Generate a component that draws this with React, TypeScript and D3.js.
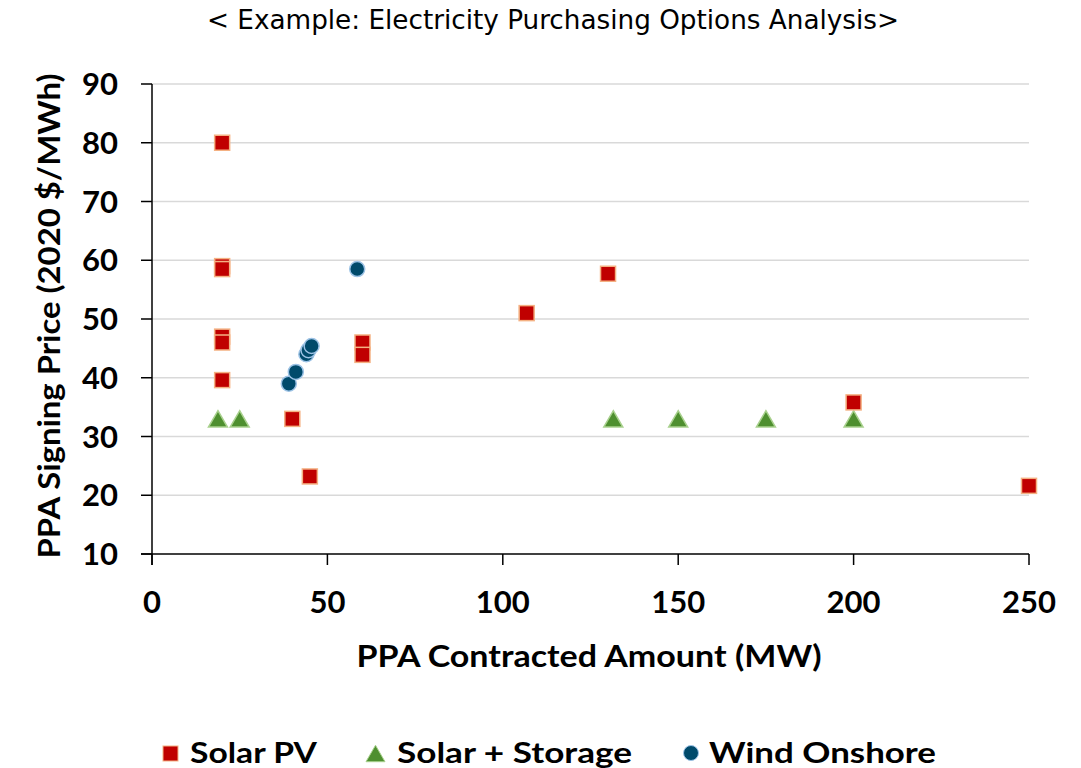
import React from "react";
import * as d3 from "d3";

const solarPvX = [20, 20, 20, 20, 20, 20, 40, 45, 60, 60, 106.8, 130, 200, 250];
const solarPvY = [80, 59, 58.5, 47, 46, 39.6, 33, 23.2, 46, 43.9, 51, 57.7, 35.8, 21.6];
const storageX = [18.8, 25, 131.5, 150, 175, 200];
const storageY = [33, 33, 33, 33, 33, 33];
const windX = [39, 41, 44, 44.6, 45.5, 58.5];
const windY = [39, 41, 44, 44.7, 45.4, 58.5];
const xTicks = [0, 50, 100, 150, 200, 250];
const yTicks = [10, 20, 30, 40, 50, 60, 70, 80, 90];
const seriesNames = ["Solar PV", "Solar + Storage", "Wind Onshore"];

const W = 1081;
const H = 768;
const M = { left: 152, right: 1029, top: 84, bottom: 554 };
const FONT = "Lato, 'Open Sans', sans-serif";

export default function App() {
  const x = d3.scaleLinear().domain([0, 250]).range([M.left, M.right]);
  const y = d3.scaleLinear().domain([10, 90]).range([M.bottom, M.top]);
  const triSize = 156;
  const tri = d3.symbol().type(d3.symbolTriangle).size(triSize)()!;
  const triSide = Math.sqrt((4 * triSize) / Math.sqrt(3));
  const triOff = (triSide * Math.sqrt(3)) / 2 / 6;
  const sq = 15;

  return (
    <svg width={W} height={H} style={{ position: "absolute", left: 0, top: 0, background: "#fff" }}>
      <text x={553} y={29} textAnchor="middle" textLength={692} lengthAdjust="spacingAndGlyphs" fontFamily="'DejaVu Sans Condensed', 'Liberation Sans Narrow', 'Liberation Sans', sans-serif" fontSize={26} fill="#000">
        {"< Example: Electricity Purchasing Options Analysis>"}
      </text>
      {yTicks.map((t) => (
        <g key={"y" + t}>
          {t !== 10 && (
            <line x1={M.left} x2={M.right} y1={y(t)} y2={y(t)} stroke="#d9d9d9" strokeWidth={1.5} />
          )}
          <line x1={M.left - 11} x2={M.left} y1={y(t)} y2={y(t)} stroke="#000" strokeWidth={1.5} />
          <text x={118} y={y(t) + 11} textAnchor="end" fontFamily={FONT} fontWeight={700} fontSize={31} fill="#000">
            {t}
          </text>
        </g>
      ))}
      {xTicks.map((t) => (
        <g key={"x" + t}>
          <line x1={x(t)} x2={x(t)} y1={M.bottom} y2={M.bottom + 11} stroke="#000" strokeWidth={1.5} />
          <text x={x(t)} y={613} textAnchor="middle" fontFamily={FONT} fontWeight={700} fontSize={31} fill="#000">
            {t}
          </text>
        </g>
      ))}
      <line x1={M.left} x2={M.left} y1={M.top} y2={M.bottom + 11} stroke="#000" strokeWidth={1.5} />
      <line x1={M.left - 11} x2={M.right} y1={M.bottom} y2={M.bottom} stroke="#000" strokeWidth={1.5} />
      <text x={589} y={667} textAnchor="middle" textLength={465} lengthAdjust="spacingAndGlyphs" fontFamily={FONT} fontWeight={700} fontSize={30} fill="#000">
        PPA Contracted Amount (MW)
      </text>
      <text transform={`translate(60,316) rotate(-90)`} textAnchor="middle" textLength={485} lengthAdjust="spacingAndGlyphs" fontFamily={FONT} fontWeight={700} fontSize={30} fill="#000">
        PPA Signing Price (2020 $/MWh)
      </text>

      {storageX.map((v, i) => (
        <path key={"s" + i} d={tri} transform={`translate(${x(v)},${y(storageY[i]) + triOff})`} fill="#4E8F2F" stroke="#A9D18E" strokeWidth={1.5} />
      ))}
      {windX.map((v, i) => (
        <circle key={"w" + i} cx={x(v)} cy={y(windY[i])} r={7.5} fill="#004A6B" stroke="#9DC3E6" strokeWidth={1.5} />
      ))}
      {solarPvX.map((v, i) => (
        <rect key={"p" + i} x={x(v) - sq / 2} y={y(solarPvY[i]) - sq / 2} width={sq} height={sq} fill="#C00000" stroke="#F4B183" strokeWidth={1.5} />
      ))}

      <g fontFamily={FONT} fontWeight={700} fontSize={29} fill="#000">
        <rect x={163} y={746} width={15} height={15} fill="#C00000" stroke="#F4B183" strokeWidth={1} />
        <text x={190} y={763} textLength={127} lengthAdjust="spacingAndGlyphs">{seriesNames[0]}</text>
        <path d={tri} transform={`translate(375.5,${753.5 + triOff})`} fill="#4E8F2F" stroke="#A9D18E" strokeWidth={1} />
        <text x={397} y={763} textLength={235} lengthAdjust="spacingAndGlyphs">{seriesNames[1]}</text>
        <circle cx={691} cy={753} r={7.5} fill="#004A6B" stroke="#9DC3E6" strokeWidth={1} />
        <text x={709} y={763} textLength={227} lengthAdjust="spacingAndGlyphs">{seriesNames[2]}</text>
      </g>
    </svg>
  );
}
